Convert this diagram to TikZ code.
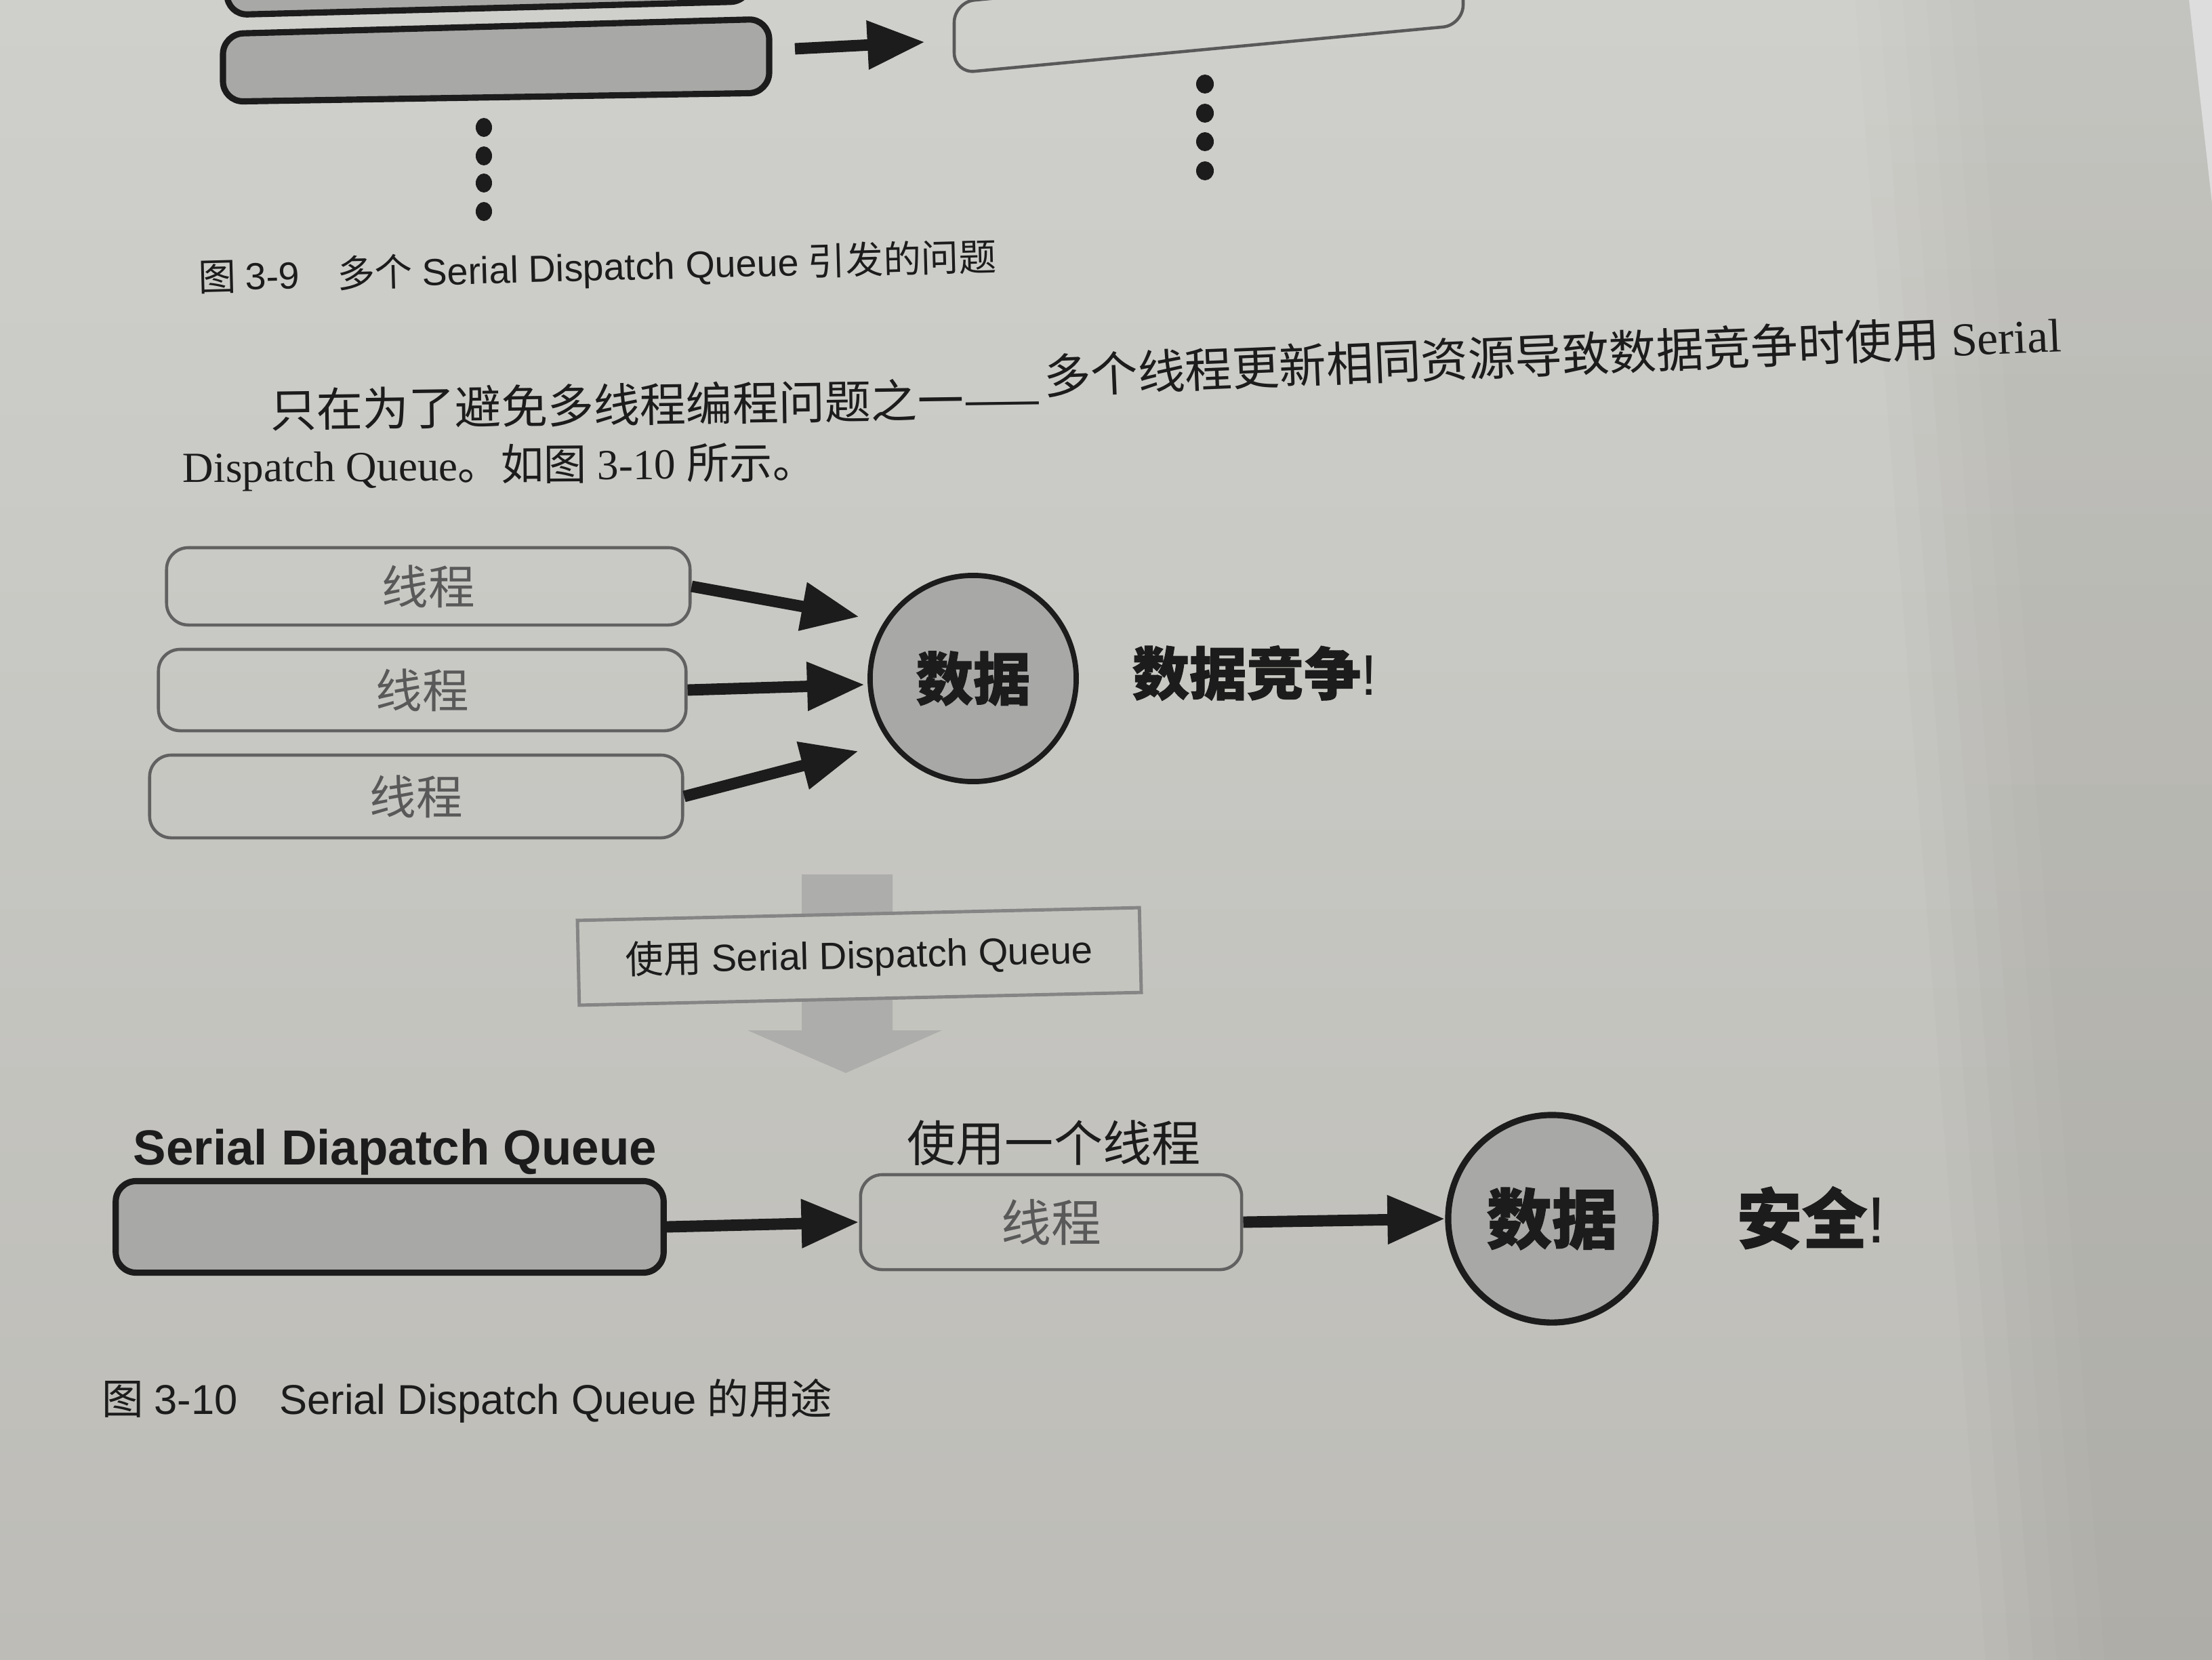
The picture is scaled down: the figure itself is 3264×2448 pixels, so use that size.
\documentclass[tikz,border=0pt]{standalone}
\usepackage{fontspec}
\setmainfont{Liberation Serif}
\newfontfamily\cjk{Noto Sans CJK SC}[BoldFeatures={FakeBold=1.2}]
\newfontfamily\lsans{Liberation Sans}
\usetikzlibrary{arrows.meta,fadings}

\definecolor{paper}{HTML}{C5C5C0}
\definecolor{paperhi}{HTML}{CFD0CC}
\definecolor{paperlo}{HTML}{BDBCB7}
\definecolor{ink}{HTML}{1C1C1C}
\definecolor{fillgray}{HTML}{A8A8A6}
\definecolor{bigarrowgray}{HTML}{ADADAB}
\definecolor{shadowgray}{HTML}{A3A19B}
\definecolor{nextpage}{HTML}{DCDDDC}
\newcommand{\fsz}[1]{\fontsize{#1}{#1}\selectfont}

\begin{document}
\begin{tikzpicture}[x=0.01cm, y=-0.01cm,
  thread/.style={draw=black!62, line width=1.3pt, rounded corners=0.32cm,
    inner sep=0pt, text=black!65, font=\cjk\fsz{19.5pt}},
  queuebox/.style={draw=ink, fill=fillgray, line width=2.6pt, rounded corners=0.3cm},
  outlinebox/.style={draw=black!65, line width=1.3pt, rounded corners=0.3cm},
  datum/.style={circle, draw=ink, fill=fillgray, line width=2.2pt, inner sep=0pt, text=ink},
  fat/.style={draw=ink, line width=4.8pt, -{Triangle[length=0.85cm, width=0.68cm]}},
  txt/.style={inner sep=0pt, text=ink},
  dot/.style={fill=ink},
]

% page, with a soft shadow near the outer edge (stacked faint bands)
\useasboundingbox (0,0) rectangle (3264,2448);
\shade[top color=paperhi, bottom color=paperlo] (0,0) rectangle (3264,2448);
\begin{scope}
  \clip (0,0) rectangle (3264,2448);
  \foreach \dx in {0,35,70,105,140,175}
    \fill[shadowgray, opacity=0.1, path fading=north]
      (2620+\dx,-1500) -- (3264,-1500) -- (3264,2448) -- (2930+\dx,2448) -- cycle;
\end{scope}
\fill[nextpage] (3230,0) -- (3264,0) -- (3264,300) -- cycle;

% tail of figure 3-9
\draw[queuebox] (335,-80) -- (335,22) -- (1108,2) -- (1108,-80);
\draw[queuebox] (329,50) -- (1135,28) -- (1135,137) -- (329,150) -- cycle;
\draw[outlinebox] (1408,3) -- (1408,108) -- (2159,37) -- (2159,-68) -- cycle;
\coordinate (qtail) at (1173,72);
\coordinate (wtip) at (1365,62);
\draw[fat] (qtail) -- (wtip);
\foreach \yy in {188,230,270,312}
  \fill[dot] (714,\yy) ellipse [x radius=0.12cm, y radius=0.14cm];
\foreach \yy in {124,167,209,252}
  \fill[dot] (1778,\yy) ellipse [x radius=0.13cm, y radius=0.14cm];
\node[txt, anchor=west, rotate=1.5] (cap9) at (292,412)
  {\fsz{15.8pt}{\cjk 图} {\lsans 3-9}\hspace{1em}{\cjk 多个} {\lsans Serial Dispatch Queue} {\cjk 引发的问题}};

% body text
\node[txt, anchor=west, rotate=0.8] (p1a) at (398,604)
  {\fsz{19.4pt}\cjk 只在为了避免多线程编程问题之一——};
\node[txt, anchor=east, rotate=2.4] (p1b) at (3042,492)
  {\fsz{19.8pt}{\cjk 多个线程更新相同资源导致数据竞争时使用} Serial};
\node[txt, anchor=west, rotate=0.4] (p2) at (269,692)
  {\fsz{18pt}Dispatch Queue{\cjk 。如图} 3-10 {\cjk 所示。}};

% figure 3-10, upper part: three threads on one datum
\node[thread, minimum width=7.72cm, minimum height=1.14cm] (t1) at (632,865) {线程};
\node[thread, minimum width=7.78cm, minimum height=1.20cm] (t2) at (623,1018) {线程};
\node[thread, minimum width=7.86cm, minimum height=1.22cm] (t3) at (614,1175) {线程};
\node[datum, minimum size=3.04cm, font=\cjk\bfseries\fsz{24pt}] (d1) at (1436,1001) {数据};
\node[txt, anchor=west, font=\cjk\bfseries\fsz{24pt}] (race) at (1670,993) {数据竞争{\lsans\mdseries !}};
\coordinate (h1) at (1268,910);
\coordinate (h2) at (1276,1010);
\coordinate (h3) at (1267,1108);
\draw[fat] (t1.east) -- (h1);
\draw[fat] (t2.east) -- (h2);
\draw[fat] (t3.east) -- (h3);

% transition arrow
\fill[bigarrowgray] (1183,1290) -- (1317,1290) -- (1317,1520) -- (1390,1520)
  -- (1248,1583) -- (1103,1520) -- (1183,1520) -- cycle;
\node[draw=black!48, line width=1.4pt, fill=paper, inner sep=0pt,
  minimum width=8.29cm, minimum height=1.25cm, rotate=1.3, text=ink] (use) at (1268,1411)
  {\fsz{16pt}{\cjk 使用} {\lsans Serial Dispatch Queue}};

% figure 3-10, lower part: one serial queue, one thread
\node[txt, anchor=base, font=\lsans\bfseries\fsz{20.7pt}] (sdq) at (583,1718)
  {Serial Diapatch Queue};
\node[queuebox, inner sep=0pt, minimum width=8.08cm, minimum height=1.35cm] (sq) at (575,1810) {};
\node[txt, font=\cjk\fsz{20.5pt}] (one) at (1555,1686) {使用一个线程};
\node[thread, font=\cjk\fsz{21pt}, minimum width=5.62cm, minimum height=1.40cm] (t4) at (1551,1803) {线程};
\node[datum, minimum size=3.06cm, line width=2.6pt, font=\cjk\bfseries\fsz{27.4pt}] (d2) at (2290,1798) {数据};
\node[txt, anchor=west, font=\cjk\bfseries\fsz{27.4pt}] (safe) at (2562,1797) {安全{\lsans\mdseries !}};
\draw[fat] (sq.east) -- (t4.west);
\draw[fat] (t4.east) -- (d2.west);

\node[txt, anchor=west] (cap10) at (150,2067)
  {\fsz{17.5pt}{\cjk 图} {\lsans 3-10}\hspace{1em}{\lsans Serial Dispatch Queue} {\cjk 的用途}};
\end{tikzpicture}
\end{document}
